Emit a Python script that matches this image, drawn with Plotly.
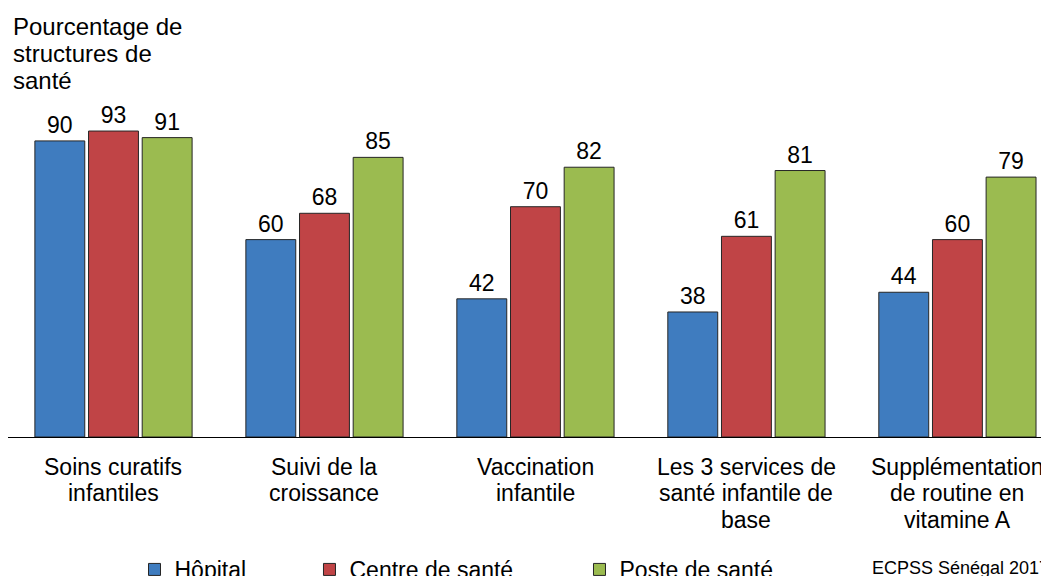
from plotly import graph_objects as go

# Data
categories = [
    "Soins curatifs<br>infantiles",
    "Suivi de la<br>croissance",
    "Vaccination<br>infantile",
    "Les 3 services de<br>santé infantile de<br>base",
    "Supplémentation<br>de routine en<br>vitamine A",
]
hopital = [90, 60, 42, 38, 44]
centre_sante = [93, 68, 70, 61, 60]
poste_sante = [91, 85, 82, 81, 79]

series_names = ["Hôpital", "Centre de santé", "Poste de santé"]
title_lines = ["Pourcentage de", "structures de", "santé"]
COLOURS = ["#3F7CBF", "#C04446", "#9BBB50"]
LEGEND_X = [0.1206, 0.2874, 0.5448]

FONT = "Liberation Sans, Arial, sans-serif"
LINE_STEP = 26.7

fig = go.Figure()
for i, (name, values, colour) in enumerate(zip(series_names, [hopital, centre_sante, poste_sante], COLOURS)):
    fig.add_trace(
        go.Bar(
            x=list(range(len(categories))),
            y=values,
            name=name,
            legend="legend" if i == 0 else "legend%d" % (i + 1),
            marker={"color": colour, "line": {"color": "#262626", "width": 1}},
            text=[str(v) for v in values],
            textposition="outside",
            textfont={"family": FONT, "size": 23, "color": "#000000"},
            cliponaxis=False,
        )
    )

legend_base = {
    "orientation": "h",
    "xanchor": "left",
    "yref": "container",
    "y": 0.0252,
    "yanchor": "middle",
    "font": {"family": FONT, "size": 23, "color": "#000000"},
    "itemwidth": 30,
    "bgcolor": "rgba(0,0,0,0)",
}

fig.update_layout(
    width=1049,
    height=576,
    paper_bgcolor="white",
    plot_bgcolor="white",
    margin={"l": 0, "r": 0, "t": 0, "b": 147, "autoexpand": False},
    barmode="group",
    bargap=0.237,
    bargroupgap=0.07,
    font={"family": FONT, "size": 23, "color": "#000000"},
    showlegend=True,
    legend=dict(legend_base, x=LEGEND_X[0]),
    legend2=dict(legend_base, x=LEGEND_X[1]),
    legend3=dict(legend_base, x=LEGEND_X[2]),
)

fig.update_xaxes(
    tickmode="array",
    tickvals=list(range(len(categories))),
    ticktext=[""] * len(categories),
    range=[-0.5, 4.472],
    showline=True,
    linecolor="#000000",
    linewidth=1,
    showgrid=False,
    zeroline=False,
    ticks="",
    automargin=False,
)
fig.update_yaxes(
    range=[0, 130.4],
    visible=False,
    showgrid=False,
    automargin=False,
)

# Category labels, one line at a time so the line spacing is tight
for i, label in enumerate(categories):
    for k, line in enumerate(label.split("<br>")):
        fig.add_annotation(
            text=line,
            xref="x", yref="paper",
            x=i, y=0,
            xanchor="center", yanchor="top",
            yshift=-(14.5 + k * LINE_STEP),
            showarrow=False,
            font={"family": FONT, "size": 23, "color": "#000000"},
        )

# Axis title at top left
for k, line in enumerate(title_lines):
    fig.add_annotation(
        text=line,
        xref="paper", yref="paper",
        x=0, y=1.0,
        xanchor="left", yanchor="top",
        xshift=3,
        yshift=-(3 + k * 27),
        showarrow=False,
        font={"family": FONT, "size": 24, "color": "#000000"},
    )

# Source note
fig.add_annotation(
    text="ECPSS Sénégal 2017",
    xref="paper", yref="paper",
    x=0.8217, y=-0.3054,
    xanchor="left", yanchor="middle",
    showarrow=False,
    font={"family": FONT, "size": 18, "color": "#000000"},
)

fig.write_html("out.html")
